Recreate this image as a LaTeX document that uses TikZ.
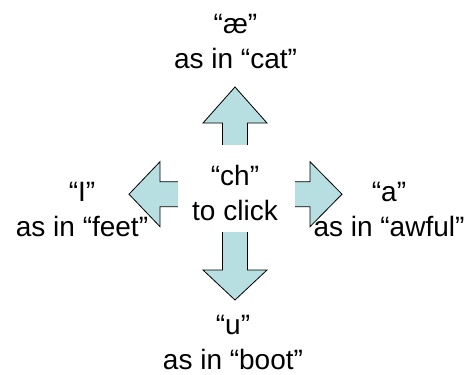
\documentclass[tikz,border=0pt]{standalone}
\usepackage{fontspec}
\setmainfont{Liberation Sans}
\definecolor{arrowfill}{RGB}{183,222,225}
\begin{document}
\begin{tikzpicture}[x=1pt,y=-1pt,
  lbl/.style={align=center,anchor=base,inner sep=0pt,
    font=\fontsize{28}{35}\selectfont},
  blockarrow/.style={draw=black,line width=0.8pt,fill=arrowfill,line join=miter}]
  \useasboundingbox (0,0) rectangle (464,375);

  % four block arrows pointing out of the middle
  \draw[blockarrow] (222.5,160) -- (222.5,123) -- (203,123) -- (235,87)
    -- (267,123) -- (247.5,123) -- (247.5,160) -- cycle;
  \draw[blockarrow] (222.5,220) -- (222.5,270) -- (203,270) -- (235,300)
    -- (267,270) -- (247.5,270) -- (247.5,220) -- cycle;
  \draw[blockarrow] (190,181.7) -- (160,181.7) -- (160,161.7) -- (129,194.2)
    -- (160,226.7) -- (160,206.7) -- (190,206.7) -- cycle;
  \draw[blockarrow] (285,181.7) -- (310,181.7) -- (310,161.7) -- (342,194.2)
    -- (310,226.7) -- (310,206.7) -- (285,206.7) -- cycle;

  % white panel hiding the arrow stems
  \fill[white] (178,145) rectangle (295,232);

  % labels, placed by the baseline of their last line
  \node[lbl] (mid)   at (235,220)   {“ch”\\to click};
  \node[lbl] (top)   at (235.5,68)  {“æ”\\as in “cat”};
  \node[lbl] (bot)   at (233,369)   {“u”\\as in “boot”};
  \node[lbl] (west)  at (82,236)    {“I”\\as in “feet”};
  \node[lbl] (east)  at (389,236)   {“a”\\as in “awful”};
\end{tikzpicture}
\end{document}
